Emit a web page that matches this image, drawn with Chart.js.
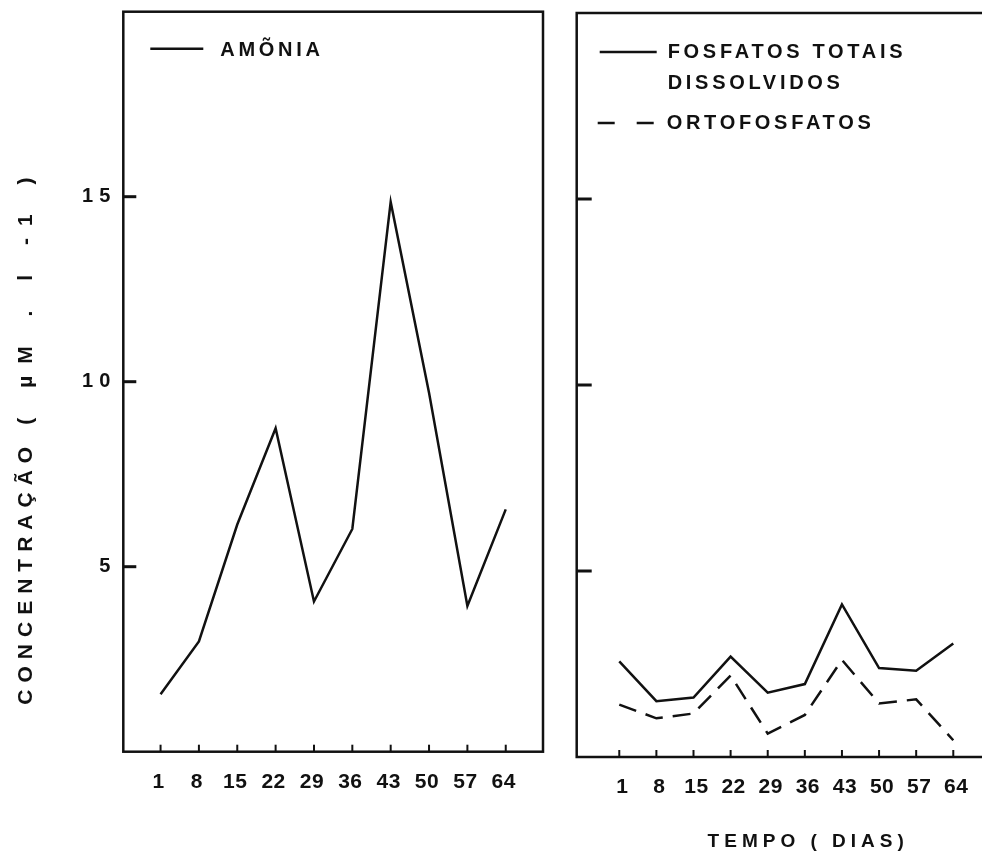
<!DOCTYPE html>
<html><head><meta charset="utf-8">
<script src="https://cdn.jsdelivr.net/npm/chart.js@4/dist/chart.umd.min.js"></script>
<style>
html,body{margin:0;padding:0;background:#fff;overflow:hidden;width:982px;height:855px;}
#wrapL{position:absolute;left:0;top:0;width:560px;height:855px;}
#wrapR{position:absolute;left:560px;top:0;width:450px;height:855px;}
</style></head><body>
<div id="wrapL"><canvas id="cL"></canvas></div>
<div id="wrapR"><canvas id="cR"></canvas></div>
<script>
// ---- data ----
const days = [1, 8, 15, 22, 29, 36, 43, 50, 57, 64];
const dayLabels = ['1', '8', '15', '22', '29', '36', '43', '50', '57', '64'];
const amonia = [1.55, 2.98, 6.14, 8.74, 4.06, 6.02, 14.86, 9.7, 3.94, 6.55];
const fosfatosTotais = [2.57, 1.50, 1.60, 2.70, 1.73, 1.96, 4.10, 2.39, 2.32, 3.05];
const ortofosfatos = [1.41, 1.04, 1.17, 2.19, 0.63, 1.13, 2.61, 1.44, 1.55, 0.45];
const yTicks = [5, 10, 15];
const yTickLabels = ['5', '10', '15'];
const yTitleWord = 'CONCENTRAÇÃO';
const yTitleUnit = '( µM . l -1 )';
const xTitle = 'TEMPO ( DIAS)';
const legendLeftNames = ['AMÕNIA'];
const legendRightNames = [['FOSFATOS TOTAIS', 'DISSOLVIDOS'], ['ORTOFOSFATOS']];

const INK = '#111';
const FAM = '"Liberation Sans", Arial, sans-serif';

function seg(ctx, x1, y1, x2, y2) { ctx.beginPath(); ctx.moveTo(x1, y1); ctx.lineTo(x2, y2); ctx.stroke(); }

const decor = {
  id: 'decor',
  beforeDraw(chart) { chart.ctx.letterSpacing = '0.5px'; },
  afterDraw(chart, args, o) {
    const ctx = chart.ctx, a = chart.chartArea, xs = chart.scales.x, ys = chart.scales.y;
    ctx.save();
    ctx.strokeStyle = INK; ctx.fillStyle = INK; ctx.setLineDash([]);
    ctx.lineWidth = 2.5;
    ctx.strokeRect(a.left, a.top, a.right - a.left, a.bottom - a.top);
    ctx.lineWidth = 3;
    ys.ticks.forEach(t => { const y = ys.getPixelForValue(t.value); seg(ctx, a.left, y, a.left + o.yTickLen, y); });
    ctx.lineWidth = 2;
    xs.ticks.forEach(t => { const x = xs.getPixelForValue(t.value); seg(ctx, x, a.bottom, x, a.bottom - 7); });
    if (o.yLabels) {
      ctx.font = 'bold 20px ' + FAM; ctx.letterSpacing = '6px';
      ctx.textAlign = 'right'; ctx.textBaseline = 'middle';
      ys.ticks.forEach((t, i) => { const y = ys.getPixelForValue(t.value); ctx.fillText(yTickLabels[i], a.left - 13 + 6, y); });
    }
    // legend
    ctx.font = 'bold 20px ' + FAM; ctx.letterSpacing = '3.7px';
    ctx.textAlign = 'left'; ctx.textBaseline = 'middle';
    o.legend.forEach(it => {
      ctx.lineWidth = 2.5; ctx.setLineDash(it.dash);
      seg(ctx, a.left + it.lx1, a.top + it.ly, a.left + it.lx2, a.top + it.ly);
      ctx.setLineDash([]);
      it.lines.forEach((t, k) => ctx.fillText(t, a.left + it.tx, a.top + it.ty + k * 31));
    });
    if (o.yTitle) {
      ctx.save();
      ctx.font = 'bold 21px ' + FAM;
      ctx.translate(26, a.bottom - 47); ctx.rotate(-Math.PI / 2);
      ctx.textAlign = 'left'; ctx.textBaseline = 'middle';
      ctx.letterSpacing = '7px';
      ctx.fillText(yTitleWord, 0, 0);
      ctx.letterSpacing = '12px';
      ctx.fillText(yTitleUnit, 280, 0);
      ctx.restore();
    }
    if (o.xTitle) {
      ctx.font = 'bold 19px ' + FAM; ctx.letterSpacing = '5px';
      ctx.textAlign = 'center'; ctx.textBaseline = 'middle';
      ctx.fillText(xTitle, a.left + 229 + 2.5, 842);
    }
    ctx.restore();
  }
};

function lineSet(vals, dash) {
  return {
    data: days.map((d, i) => ({ x: d, y: vals[i] })),
    borderColor: INK, borderWidth: 2.5, borderDash: dash, borderJoinStyle: 'miter',
    pointRadius: 0, fill: false, tension: 0
  };
}

function makeChart(id, cfg) {
  return new Chart(document.getElementById(id), {
    type: 'line',
    data: { datasets: cfg.datasets },
    plugins: [decor],
    options: {
      responsive: true, maintainAspectRatio: false, animation: false,
      layout: { padding: cfg.padding },
      plugins: { legend: { display: false }, tooltip: { enabled: false }, decor: cfg.decor },
      scales: {
        x: {
          type: 'linear', min: cfg.xmin, max: cfg.xmax,
          afterBuildTicks: s => { s.ticks = days.map(v => ({ value: v })); },
          afterFit: s => { s.height = cfg.xHeight; },
          grid: { display: false, drawTicks: false }, border: { display: false },
          ticks: { padding: 18, labelOffset: cfg.labelOffset, color: INK, autoSkip: false, maxRotation: 0,
            font: { family: FAM, size: 21, weight: 'bold' },
            callback: (v, i) => dayLabels[i] }
        },
        y: {
          min: 0, max: 20,
          afterBuildTicks: s => { s.ticks = yTicks.map(v => ({ value: v })); },
          afterFit: s => { s.width = cfg.yWidth; },
          grid: { display: false, drawTicks: false }, border: { display: false },
          ticks: { display: false }
        }
      }
    }
  });
}

makeChart('cL', {
  datasets: [lineSet(amonia, [])],
  padding: { left: 0, right: 17, top: 11.7, bottom: 0 },
  xmin: -5.8, xmax: 70.8, xHeight: 103.3, yWidth: 123.3, labelOffset: -2,
  decor: {
    yTickLen: 13, yLabels: true, yTitle: true, xTitle: false,
    legend: [{ lines: [legendLeftNames[0]], dash: [], lx1: 27, lx2: 80, ly: 37, tx: 97, ty: 39 }]
  }
});

makeChart('cR', {
  datasets: [lineSet(fosfatosTotais, []), lineSet(ortofosfatos, [18, 10])],
  padding: { left: 0, right: 14.3, top: 13, bottom: 0 },
  xmin: -7.03, xmax: 72, xHeight: 98, yWidth: 16.7, labelOffset: 3,
  decor: {
    yTickLen: 15, yLabels: false, yTitle: false, xTitle: true,
    legend: [
      { lines: legendRightNames[0], dash: [], lx1: 23, lx2: 80, ly: 39, tx: 91, ty: 39 },
      { lines: legendRightNames[1], dash: [17, 22], lx1: 21, lx2: 77, ly: 110, tx: 90, ty: 110 }
    ]
  }
});
</script>
</body></html>
